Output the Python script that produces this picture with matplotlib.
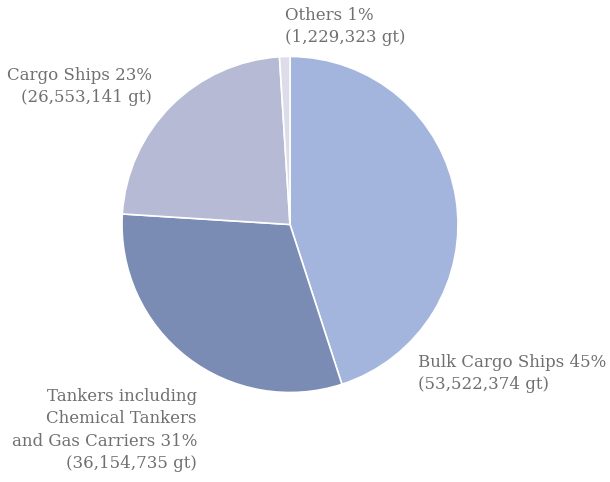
import matplotlib.pyplot as plt

categories = ['Bulk Cargo Ships', 'Tankers including\nChemical Tankers\nand Gas Carriers',
              'Cargo Ships', 'Others']
tonnage = [53522374, 36154735, 26553141, 1229323]
pct = [45, 31, 23, 1]
colors = ['#a3b5dc', '#7a8bb4', '#b6bad4', '#dcdde8']

W, H = 610, 482
fig = plt.figure(figsize=(W / 100, H / 100), dpi=100)
cx, cy, r = 290, 224.5, 168
ax = fig.add_axes([(cx - r) / W, (H - cy - r) / H, 2 * r / W, 2 * r / H])
ax.pie(pct, colors=colors, startangle=90, counterclock=False,
       wedgeprops=dict(edgecolor='white', linewidth=1.2))
ax.set_xlim(-1.0, 1.0)
ax.set_ylim(-1.0, 1.0)

labels = ['%s %d%%\n(%s gt)' % (c, p, format(v, ',')) for c, p, v in zip(categories, pct, tonnage)]

# label anchors (px, top edge) and alignment
spots = [(418, 354, 'left'), (197, 388, 'right'), (152, 67, 'right'), (285, 7, 'left')]
for lab, (x, y, ha) in zip(labels, spots):
    fig.text(x / W, 1 - y / H, lab, ha=ha, va='top', multialignment=ha,
             fontsize=12, family='DejaVu Serif', color='#707070', linespacing=1.42)

fig.savefig('out.png', dpi=100)
